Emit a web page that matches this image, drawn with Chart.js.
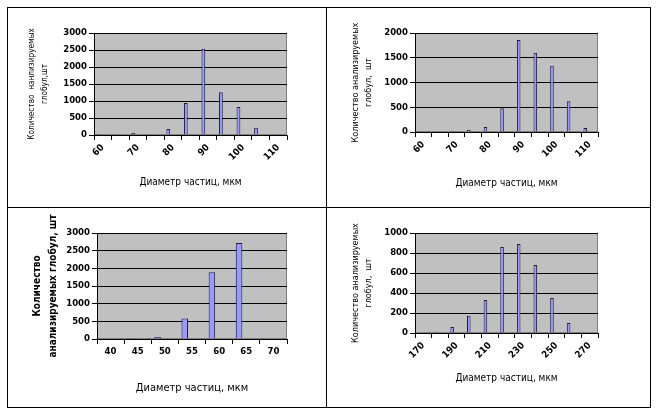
<!DOCTYPE html>
<html>
<head>
<meta charset="utf-8">
<script src="https://cdn.jsdelivr.net/npm/chart.js@4"></script>
<style>
  body { margin: 0; background: #fff; }
  .frame { position: absolute; border: 1px solid #000; }
  .line { position: absolute; background: #000; }
  canvas { position: absolute; }
</style>
</head>
<body>
<div class="frame" style="left:7px; top:7px; width:642px; height:399px;"></div>
<div class="line" style="left:326px; top:7px; width:1px; height:400px;"></div>
<div class="line" style="left:7px; top:207px; width:643px; height:1px;"></div>

<canvas id="c1" width="317" height="198" style="left:8px; top:8px;"></canvas>
<canvas id="c2" width="322" height="198" style="left:327px; top:8px;"></canvas>
<canvas id="c3" width="317" height="198" style="left:8px; top:208px;"></canvas>
<canvas id="c4" width="322" height="198" style="left:327px; top:208px;"></canvas>

<script>
// Данные
const diam1 = ["60", "65", "70", "75", "80", "85", "90", "95", "100", "105", "110"];
const count1 = [30, 20, 60, 20, 180, 940, 2540, 1260, 820, 210, 20];

const diam2 = ["60", "65", "70", "75", "80", "85", "90", "95", "100", "105", "110"];
const count2 = [20, 0, 20, 45, 100, 480, 1860, 1600, 1340, 620, 80];

const diam3 = ["40", "45", "50", "55", "60", "65", "70"];
const count3 = [0, 30, 60, 580, 1890, 2720, 0];

const diam4 = ["170", "180", "190", "200", "210", "220", "230", "240", "250", "260", "270"];
const count4 = [0, 13, 60, 173, 330, 860, 890, 680, 350, 100, 0];

const xTitle = "Диаметр частиц, мкм";
const yTitle1 = ["Количество  нанлизируемых", "глобул,шт"];
const yTitle2 = ["Количество анализируемых", "глобул,  шт"];
const yTitle3 = ["Количество", "анализируемых глобул, шт"];
const yTitle4 = ["Количество анализируемых", "глобул,  шт"];

const FONT = "'DejaVu Sans Condensed', 'DejaVu Sans', sans-serif";

// серый фон области построения
const plotBg = {
  id: "plotBg",
  beforeDraw(chart) {
    const { ctx, chartArea: a } = chart;
    ctx.save();
    ctx.fillStyle = "#c0c0c0";
    ctx.fillRect(a.left, a.top, a.width, a.height);
    ctx.strokeStyle = "#808080";
    ctx.lineWidth = 1;
    ctx.strokeRect(a.left + 0.5, a.top + 0.5, a.width - 1, a.height - 1);
    ctx.restore();
  },
};

function makeChart(id, labels, values, o) {
  return new Chart(document.getElementById(id), {
    type: "bar",
    data: {
      labels: labels,
      datasets: [
        {
          data: values,
          backgroundColor: "#9999ff",
          borderColor: "#1a1a40",
          borderWidth: 1,
          categoryPercentage: 0.8,
          barPercentage: o.barPct,
        },
        // пустые серии, как в исходной таблице Excel (сдвигают столбик влево)
        { data: [], categoryPercentage: 0.8, barPercentage: o.barPct },
        { data: [], categoryPercentage: 0.8, barPercentage: o.barPct },
      ],
    },
    options: {
      responsive: false,
      animation: false,
      layout: { padding: { left: 0, top: o.top, right: o.right, bottom: 0 } },
      plugins: { legend: { display: false }, tooltip: { enabled: false } },
      scales: {
        x: {
          grid: { offset: true, drawOnChartArea: false, color: "#000", tickLength: 5 },
          border: { color: "#000" },
          ticks: {
            autoSkip: false,
            maxRotation: o.rot,
            minRotation: o.rot,
            padding: 2,
            color: "#000",
            font: { family: FONT, size: o.tickSize, weight: "bold" },
            callback: (v, i) => (o.every === 1 || i % 2 === 0 ? labels[i] : ""),
          },
          title: {
            display: true,
            text: xTitle,
            color: "#000",
            font: { family: FONT, size: o.xTitleSize, lineHeight: 1.2 },
            padding: { top: 0, bottom: o.xTitlePad },
          },
          afterFit: (s) => { s.height = o.xH; },
        },
        y: {
          min: 0,
          max: o.yMax,
          ticks: {
            stepSize: o.step,
            padding: 2,
            color: "#000",
            font: { family: FONT, size: o.tickSize, weight: "bold" },
            callback: (v) => String(v),
          },
          grid: { color: "#000", tickLength: 5 },
          border: { color: "#000" },
          title: {
            display: true,
            text: o.yTitle,
            color: "#000",
            font: { family: FONT, size: o.yTitleSize, weight: o.yTitleWeight, lineHeight: o.yLH },
            padding: { top: o.yTitlePad, bottom: 0 },
          },
          afterFit: (s) => { s.width = o.yW; },
        },
      },
    },
    plugins: [plotBg],
  });
}

makeChart("c1", diam1, count1, {
  yMax: 3000, step: 500, yTitle: yTitle1, barPct: 0.8, rot: 45, every: 2,
  top: 25, right: 38, yW: 86, xH: 71, tickSize: 9.5,
  xTitleSize: 10, xTitlePad: 18, yTitleSize: 8.2, yTitleWeight: "normal", yLH: 1.55, yTitlePad: 18,
});
makeChart("c2", diam2, count2, {
  yMax: 2000, step: 500, yTitle: yTitle2, barPct: 0.8, rot: 45, every: 2,
  top: 25, right: 51, yW: 88, xH: 74, tickSize: 9.5,
  xTitleSize: 10, xTitlePad: 17, yTitleSize: 9, yTitleWeight: "normal", yLH: 1.45, yTitlePad: 22.5,
});
makeChart("c3", diam3, count3, {
  yMax: 3000, step: 500, yTitle: yTitle3, barPct: 0.9, rot: 0, every: 1,
  top: 25, right: 38, yW: 89, xH: 67, tickSize: 9.5,
  xTitleSize: 11, xTitlePad: 11, yTitleSize: 10, yTitleWeight: "bold", yLH: 1.6, yTitlePad: 21,
});
makeChart("c4", diam4, count4, {
  yMax: 1000, step: 200, yTitle: yTitle4, barPct: 0.8, rot: 45, every: 2,
  top: 25, right: 51, yW: 88, xH: 73, tickSize: 9.5,
  xTitleSize: 10, xTitlePad: 22, yTitleSize: 9, yTitleWeight: "normal", yLH: 1.5, yTitlePad: 21.5,
});
</script>
</body>
</html>
